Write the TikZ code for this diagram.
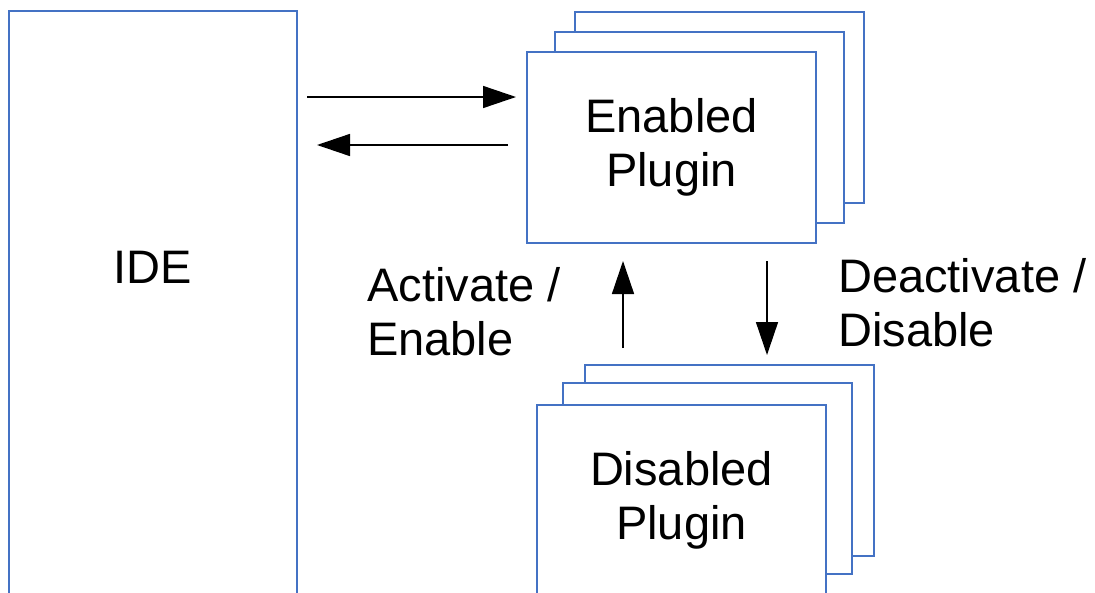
\documentclass[tikz,border=0pt]{standalone}
\usepackage{fontspec}
\setmainfont{Liberation Sans}
\usetikzlibrary{arrows.meta}
\definecolor{boxblue}{HTML}{4472C4}
\begin{document}
\begin{tikzpicture}[x=1pt,y=-1pt,
  box/.style={draw=boxblue,line width=1.5pt,fill=white,inner sep=0pt,outer sep=0pt,
    minimum width=289pt,minimum height=191pt,align=center,
    font=\fontsize{47}{54}\selectfont},
  lbl/.style={inner sep=0pt,align=left,font=\fontsize{47}{54}\selectfont},
  arr/.style={line width=1.5pt,-{Triangle[length=33pt,width=22pt]}}]
\useasboundingbox (0,0) rectangle (1095,592);
\clip (0,0) rectangle (1095,592);
% IDE
\node[box,minimum width=288pt,minimum height=640pt,anchor=north west] (ide) at (9,11) {};
\node[inner sep=0pt,font=\fontsize{47}{54}\selectfont,anchor=base] (idetxt) at (153,283) {IDE};
% Enabled plugin stack
\node[box] (enaB) at (719.5,107.5) {};
\node[box] (enaA) at (699.5,127.5) {};
\node[box] (ena) at (671.5,147.5) {Enabled\\Plugin};
% Disabled plugin stack
\node[box] (disB) at (729.5,460.5) {};
\node[box] (disA) at (707.5,478.5) {};
\node[box] (dis) at (681.5,500.5) {Disabled\\Plugin};
% labels
\node[lbl,anchor=base west] (act) at (367,355) {Activate /\\Enable};
\node[lbl,anchor=base west] (deact) at (838,346) {Deactivate /\\Disable};
% arrows
\draw[arr] ([shift={(10,86)}]ide.north east) -- ([shift={(-11,45)}]ena.north west);
\draw[arr] ([shift={(-19,93)}]ena.north west) -- ([shift={(20,134)}]ide.north east);
\draw[arr] ([shift={(-48.5,105)}]ena.south) -- ([shift={(-48.5,18)}]ena.south);
\draw[arr] ([shift={(37.5,-104)}]disB.north) -- ([shift={(37.5,-10)}]disB.north);
\end{tikzpicture}
\end{document}
